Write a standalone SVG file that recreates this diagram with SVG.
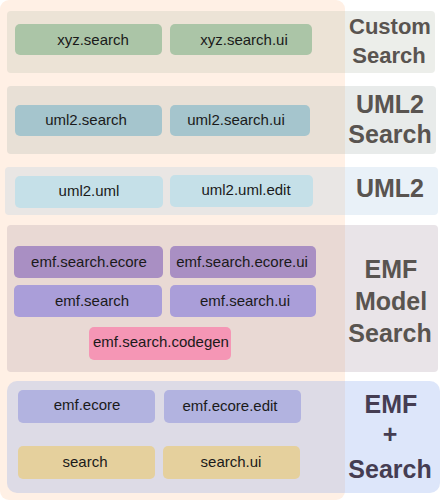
<svg xmlns="http://www.w3.org/2000/svg" width="440" height="501" viewBox="0 0 440 501">
<style>
.n text{font-family:"Liberation Sans",Arial,sans-serif;font-size:15px;fill:#1a1a1a;text-anchor:middle}
.lbl{font-family:"Liberation Sans",Arial,sans-serif;font-weight:bold;font-size:25px;fill:#595450;text-anchor:middle}
.band{fill-opacity:0.25}
</style>
<rect x="0" y="0" width="345" height="500" rx="9" fill="#fff0e5"/>
<g id="bands">
<rect class="band" x="7" y="11" width="428" height="62" rx="4" fill="#b4bcac"/>
<rect class="band" x="7" y="86" width="429" height="68" rx="4" fill="#a4b0ac"/>
<rect class="band" x="5" y="167" width="433" height="48" rx="4" fill="#a8c8e4"/>
<rect class="band" x="7" y="225" width="431" height="147" rx="4" fill="#a894a4"/>
<rect class="band" x="7" y="381" width="433" height="112" rx="10" fill="#789cec"/>
</g>
<g id="labels">
<text class="lbl" x="390" y="34" style="font-size:22px">Custom</text>
<text class="lbl" x="389" y="63" style="font-size:22px">Search</text>
<text class="lbl" x="390" y="113">UML2</text>
<text class="lbl" x="390" y="143">Search</text>
<text class="lbl" x="390" y="197">UML2</text>
<text class="lbl" x="391" y="278">EMF</text>
<text class="lbl" x="391" y="310">Model</text>
<text class="lbl" x="390" y="342">Search</text>
<text class="lbl" x="391" y="413" style="fill:#453d52">EMF</text>
<text class="lbl" x="390" y="443" style="fill:#453d52">+</text>
<text class="lbl" x="390" y="478" style="fill:#453d52">Search</text>
</g>
<g id="connectors"></g>
<g id="n-xyz-search" class="n"><rect x="15" y="24" width="147" height="31" rx="5" fill="#abc5a7"/><text x="93" y="45">xyz.search</text></g>
<g id="n-xyz-search-ui" class="n"><rect x="170" y="24" width="142" height="31" rx="5" fill="#abc5a7"/><text x="244" y="45">xyz.search.ui</text></g>
<g id="n-uml2-search" class="n"><rect x="15" y="105" width="147" height="31" rx="5" fill="#a5c5cd"/><text x="86" y="125">uml2.search</text></g>
<g id="n-uml2-search-ui" class="n"><rect x="170" y="105" width="140" height="31" rx="5" fill="#a5c5cd"/><text x="236" y="125">uml2.search.ui</text></g>
<g id="n-uml2-uml" class="n"><rect x="15" y="176" width="148" height="32" rx="5" fill="#c5e0e8"/><text x="89" y="196">uml2.uml</text></g>
<g id="n-uml2-uml-edit" class="n"><rect x="170" y="175" width="143" height="32" rx="5" fill="#c5e0e8"/><text x="246" y="195">uml2.uml.edit</text></g>
<g id="n-emf-search-ecore" class="n"><rect x="14" y="246" width="149" height="32" rx="5" fill="#a98fc3"/><text x="89" y="267">emf.search.ecore</text></g>
<g id="n-emf-search-ecore-ui" class="n"><rect x="170" y="246" width="146" height="32" rx="5" fill="#a98fc3"/><text x="242" y="267">emf.search.ecore.ui</text></g>
<g id="n-emf-search" class="n"><rect x="14" y="285" width="148" height="32" rx="5" fill="#aa9ed9"/><text x="92" y="306">emf.search</text></g>
<g id="n-emf-search-ui" class="n"><rect x="170" y="285" width="146" height="32" rx="5" fill="#aa9ed9"/><text x="245" y="306">emf.search.ui</text></g>
<g id="n-emf-search-codegen" class="n"><rect x="89" y="327" width="142" height="33" rx="5" fill="#f596b5"/><text x="161" y="347">emf.search.codegen</text></g>
<g id="n-emf-ecore" class="n"><rect x="18" y="390" width="137" height="33" rx="5" fill="#b2b3e0"/><text x="87" y="410">emf.ecore</text></g>
<g id="n-emf-ecore-edit" class="n"><rect x="164" y="390" width="137" height="33" rx="5" fill="#b2b3e0"/><text x="230" y="411">emf.ecore.edit</text></g>
<g id="n-search" class="n"><rect x="18" y="446" width="137" height="33" rx="5" fill="#e5d09d"/><text x="85" y="467">search</text></g>
<g id="n-search-ui" class="n"><rect x="163" y="446" width="137" height="33" rx="5" fill="#e5d09d"/><text x="231" y="467">search.ui</text></g>
</svg>
